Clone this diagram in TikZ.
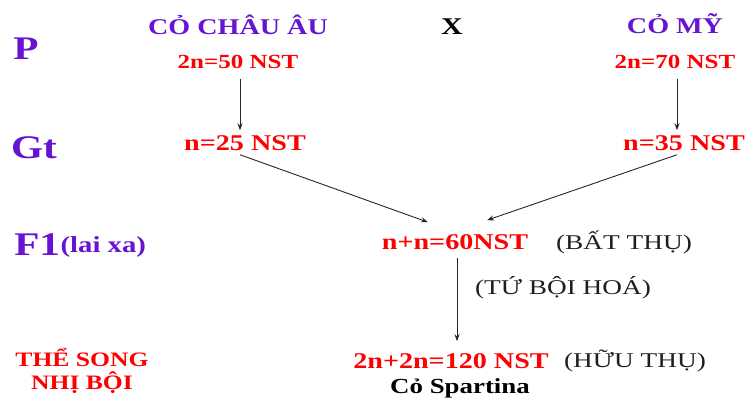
\documentclass[tikz,border=0pt]{standalone}
\usepackage{fontspec}
\usetikzlibrary{arrows.meta}
\setmainfont{Liberation Serif}
\definecolor{vio}{RGB}{102,20,210}
\definecolor{rd}{RGB}{255,0,0}
\definecolor{gr}{RGB}{30,30,30}
\tikzset{
  lbl/.style={inner sep=0pt, xscale=1.25, font=\bfseries\fontsize{20}{22}\selectfont},
  vlbl/.style={lbl, text=vio, font=\bfseries\fontsize{22.5}{24}\selectfont},
  big/.style={inner sep=0pt, xscale=1.25, text=vio, font=\bfseries\fontsize{33}{36}\selectfont},
  rlbl/.style={lbl, text=rd},
  rbig/.style={rlbl, font=\bfseries\fontsize{22.5}{24}\selectfont},
  note/.style={inner sep=0pt, xscale=1.3, text=gr, font=\fontsize{21}{23}\selectfont},
  arr/.style={draw=black!85, line width=0.9pt, -{Stealth[length=7pt,width=5pt]}},
}
\begin{document}
\begin{tikzpicture}[x=1pt,y=-1pt]
\useasboundingbox (0,0) rectangle (748,403);
\node[vlbl] (cchau) at (238,25) {CỎ CHÂU ÂU};
\node[lbl, font=\bfseries\fontsize{24}{26}\selectfont] (x) at (452,27) {X};
\node[vlbl] (cmy) at (675,24) {CỎ MỸ};
\node[big] (P) at (26,49) {P};
\node[rlbl] (p1) at (238,62) {2n=50 NST};
\node[rlbl] (p2) at (675,62) {2n=70 NST};
\node[big] (Gt) at (34,148) {Gt};
\node[rbig] (g1) at (245,143) {n=25 NST};
\node[rbig] (g2) at (684,143) {n=35 NST};
\node[big, anchor=west] (F1) at (14,245) {F1};
\node[vlbl, anchor=west, font=\bfseries\fontsize{23}{25}\selectfont] (lai) at ([yshift=-2pt]F1.east) {(lai xa)};
\node[rbig] (f1) at (455,242) {n+n=60NST};
\node[note] (bat) at (624,242) {(BẤT THỤ)};
\node[note] (tu) at (563,288) {(TỨ BỘI HOÁ)};
\node[rbig] (f2) at (451,361) {2n+2n=120 NST};
\node[note] (huu) at (635,361) {(HỮU THỤ)};
\node[lbl, font=\bfseries\fontsize{21.5}{23}\selectfont] (sp) at (460,388) {Cỏ Spartina};
\node[rlbl, align=center, font=\bfseries\fontsize{20.5}{23}\selectfont] (the) at (82,371) {THỂ SONG\\NHỊ BỘI};
\draw[arr] ([yshift=-10pt]p1.south -| 240,0) -- ([yshift=5pt]g1.north -| 240,0);
\draw[arr] ([yshift=-10pt]p2.south -| 677,0) -- ([yshift=5pt]g2.north -| 677,0);
\draw[arr] ([xshift=-5pt,yshift=-4pt]g1.south) -- ([xshift=-27pt,yshift=12pt]f1.north);
\draw[arr] ([xshift=-7pt,yshift=-4pt]g2.south) -- ([xshift=32pt,yshift=14pt]f1.north);
\draw[arr] ([yshift=-8pt]f1.south -| 457,0) -- ([yshift=12pt]f2.north -| 457,0);
\end{tikzpicture}
\end{document}
